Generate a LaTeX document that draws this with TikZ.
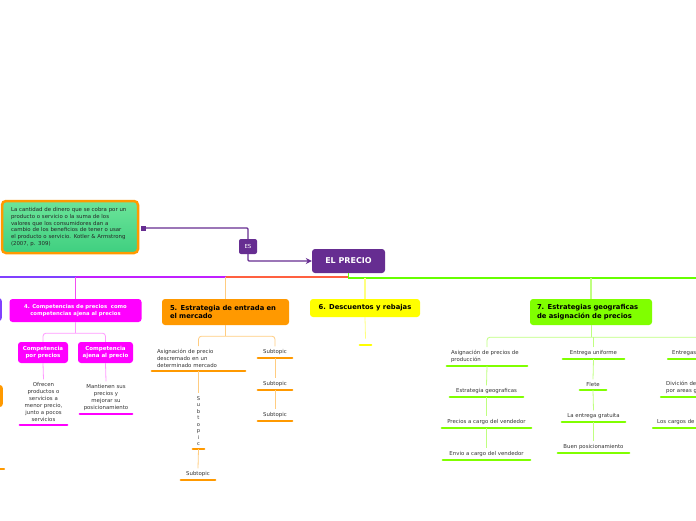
\documentclass[tikz,border=0pt]{standalone}
\usepackage{fontspec}
\setmainfont{DejaVu Sans}
\usetikzlibrary{arrows.meta,calc}
\definecolor{cMain}{HTML}{662D91}
\definecolor{cViolet}{HTML}{8040FF}
\definecolor{cMagenta}{HTML}{FF00FF}
\definecolor{cStem}{HTML}{F24DF2}
\definecolor{cPink}{HTML}{FF99FF}
\definecolor{cOrange}{HTML}{FF9900}
\definecolor{cRed}{HTML}{FF6040}
\definecolor{cYellow}{HTML}{FFFF00}
\definecolor{cGreen}{HTML}{80FF00}
\definecolor{cBar}{HTML}{66FF00}
\definecolor{cDefTop}{HTML}{6CE59A}
\definecolor{cDefBot}{HTML}{3FCF80}
\definecolor{cText}{HTML}{333333}
\tikzset{
  topic/.style = {rectangle, rounded corners=3pt, fill=#1, inner sep=0pt, align=center,
                  font=\bfseries\fontsize{5.3}{6.6}\selectfont},
  big/.style   = {font=\bfseries\fontsize{6.8}{8.4}\selectfont, align=left},
  defn/.style  = {rectangle, rounded corners=4pt, draw=cOrange, line width=2.5pt,
                  top color=cDefTop, bottom color=cDefBot, align=left, inner sep=0pt,
                  text=black!85, font=\fontsize{5.4}{6.8}\selectfont},
  sub/.style   = {inner xsep=0pt, inner ysep=3pt, align=center, text=cText, anchor=south,
                  font=\fontsize{5.4}{7}\selectfont},
  ul/.style    = {line width=2.4pt, draw=#1, line cap=round},
  br/.style    = {line width=0.8pt, draw=#1, rounded corners=3pt},
  stem/.style  = {line width=1.2pt, draw=#1},
  link/.style  = {line width=1.2pt, draw=cMain, rounded corners=1pt},
}

\begin{document}
\begin{tikzpicture}[x=1pt,y=-1pt]
  \useasboundingbox (0,0) rectangle (696,520);
  \clip (0,0) rectangle (696,520);

  % centro y definicion
  \node[topic=cMain, text=white, font=\bfseries\fontsize{8}{9}\selectfont,
        minimum width=73pt, minimum height=24pt] (precio) at (348.5,261) {EL PRECIO};
  \node[defn, minimum width=136pt, minimum height=52pt, text width=118pt] (defn) at (70,227)
    {La cantidad de dinero que se cobra por un\\producto o servicio o la suma de los\\valores que los consumidores dan a\\cambio de los beneficios de tener o usar\\el producto o servicio. Kotler \& Armstrong\\(2007, p. 309)};
  \node[fill=cMain, minimum size=5pt, inner sep=0pt] (knob) at (143,228) {};
  \node[topic=cMain, text=white, font=\fontsize{5.5}{6}\selectfont, rounded corners=2pt,
        minimum width=18pt, minimum height=15pt] (es) at (248,246.5) {ES};
  \draw[link] (knob) -| (es.north);
  \draw[link, -{Stealth[length=6pt,width=6pt]}] (es.south) |- (precio.west);

  % barra principal
  \coordinate (b0) at (0,277);
  \coordinate (b4) at (75.5,277);
  \coordinate (b5) at (225.5,277);
  \coordinate (bp) at (348,277);
  \coordinate (b6) at (365,278);
  \coordinate (b7) at (591,278);
  \coordinate (bend) at (700,278);
  \draw[line width=2pt, cViolet] (b0) -- (b4);
  \draw[line width=2pt, cViolet!50!cMagenta] (b4) -- (b5);
  \draw[line width=2pt, cRed] (b5) -- (bp);
  \draw[line width=1.5pt, cBar] (precio.south) |- (bend);

  % ramas cortadas a la izquierda
  \node[topic=cViolet, minimum width=30pt, minimum height=23pt, anchor=east] (n3) at (2,309.5) {};
  \node[topic=cOrange, minimum width=30pt, minimum height=22pt, anchor=east] (n2) at (3,396) {};
  \node[sub, minimum width=25pt, anchor=south east] (s2a) at (4,469) {};

  % temas
  \node[topic=cMagenta, text=white, minimum width=132pt, minimum height=23pt] (n4) at (75.5,310.5)
    {4. Competencias de precios\ \ como\\competencias ajena al precios};
  \node[topic=cMagenta, text=white, font=\bfseries\fontsize{5.5}{7}\selectfont,
        minimum width=50pt, minimum height=21pt] (n4a) at (43,352.5) {Competencia\\por precios};
  \node[topic=cMagenta, text=white, font=\bfseries\fontsize{5.5}{7}\selectfont,
        minimum width=55pt, minimum height=21pt] (n4b) at (105.5,352.5) {Competencia\\ajena al precio};
  \node[topic=cOrange, big, minimum width=127pt, minimum height=26pt, text width=111pt] (n5) at (225.5,312)
    {5. Estrategia de entrada en\\el mercado};
  \node[topic=cYellow, big, minimum width=110pt, minimum height=18pt] (n6) at (365,308)
    {6. Descuentos y rebajas};
  \node[topic=cGreen, big, minimum width=122pt, minimum height=26pt, text width=108pt] (n7) at (591,312)
    {7. Estrategias geograficas\\de asignación de precios};

  % subtemas
  \node[sub, minimum width=47pt] (s4a) at (43.5,425)
    {Ofrecen\\productos o\\servicios a\\menor precio,\\junto a pocos\\servicios};
  \node[sub, minimum width=52pt] (s4b) at (106,414)
    {Mantienen sus\\precios y\\mejorar su\\posicionamiento};

  \node[sub, align=left, text width=83pt, inner xsep=5pt] (s5a) at (198.5,371)
    {Asignación de precio\\descremado en un\\determinado mercado};
  \node[sub, minimum width=34pt] (s5b) at (275,358) {Subtopic};
  \node[sub, minimum width=34pt] (s5c) at (275,390) {Subtopic};
  \node[sub, minimum width=34pt] (s5d) at (275,421) {Subtopic};
  \node[sub, minimum width=11pt, font=\fontsize{5.2}{6.5}\selectfont] (s5e) at (198.5,449)
    {S\\u\\b\\t\\o\\p\\i\\c};
  \node[sub, minimum width=34pt] (s5f) at (198,480) {Subtopic};

  \node[sub, minimum width=11pt] (s6a) at (365.5,345) {};

  \node[sub, align=left, text width=72pt, inner xsep=4pt] (s7a) at (487,366)
    {Asignación de precios de\\producción};
  \node[sub, minimum width=73pt] (s7b) at (486.5,397) {Estrategia geograficas};
  \node[sub, minimum width=89pt] (s7c) at (486.5,428) {Precios a cargo del vendedor};
  \node[sub, minimum width=87pt] (s7d) at (486.5,460) {Envio a cargo del vendedor};
  \node[sub, minimum width=61pt] (s7e) at (593.5,359) {Entrega uniforme};
  \node[sub, minimum width=26pt] (s7f) at (593,390) {Flete};
  \node[sub, minimum width=63pt] (s7g) at (593.5,422) {La entrega gratuita};
  \node[sub, minimum width=71pt] (s7h) at (593.5,453) {Buen posicionamiento};
  \node[sub, anchor=south west, align=left, text width=54pt, inner xsep=4pt] (s7i) at (668,359)
    {Entregas};
  \node[sub, anchor=south west, align=left, text width=66pt, inner xsep=5pt] (s7j) at (661,397)
    {Divición de\\por areas g};
  \node[sub, anchor=south west, align=left, text width=84pt, inner xsep=4pt] (s7k) at (653,428)
    {Los cargos de};

  \foreach \n/\c in {s2a/cOrange, s4a/cMagenta, s4b/cMagenta, s5a/cOrange, s5b/cOrange,
                     s5c/cOrange, s5d/cOrange, s5e/cOrange, s5f/cOrange, s6a/cYellow,
                     s7a/cGreen, s7b/cGreen, s7c/cGreen, s7d/cGreen, s7e/cGreen, s7f/cGreen,
                     s7g/cGreen, s7h/cGreen, s7i/cGreen, s7j/cGreen, s7k/cGreen}
    \draw[ul=\c] (\n.south west) -- (\n.south east);

  % conectores
  \draw[stem=cStem] (b4) -- (n4.north);
  \draw[stem=cOrange!50] (b5) -- (n5.north);
  \draw[stem=cYellow!50] (b6) -- (n6.north);
  \draw[stem=cGreen!50] (b7) -- (n7.north);

  \coordinate (j4) at ($(n4.south)+(0,11)$);
  \draw[br=cPink] (n4.south) -- (j4);
  \draw[br=cPink] (n4a.north) |- (j4) -| (n4b.north);
  \draw[br=cPink] (n4a.south) -- (s4a.north);
  \draw[br=cPink] (n4b.south) -- (s4b.north);

  \coordinate (j5) at ($(n5.south)+(0,11)$);
  \draw[br=cOrange!50] (n5.south) -- (j5);
  \draw[br=cOrange!50] (s5a.north) |- (j5) -| (s5b.north);
  \draw[br=cOrange!50] (s5a.south) -- (s5e.north);
  \draw[br=cOrange!50] (s5e.south) -- (s5f.north);
  \draw[br=cOrange!50] (s5b.south) -- (s5c.north);
  \draw[br=cOrange!50] (s5c.south) -- (s5d.north);

  \draw[br=cYellow!50] (n6.south) -- (s6a.north);

  \coordinate (j7) at ($(n7.south)+(0,12)$);
  \draw[br=cGreen!50] (n7.south) -- (j7);
  \draw[br=cGreen!50] (s7a.north) |- (j7) -| (s7i.north);
  \draw[br=cGreen!50] (s7e.north) -- (s7e.north |- j7);
  \foreach \a/\b in {s7a/s7b, s7b/s7c, s7c/s7d, s7e/s7f, s7f/s7g, s7g/s7h, s7i/s7j, s7j/s7k}
    \draw[br=cGreen!50] (\a.south) -- (\b.north);
\end{tikzpicture}
\end{document}
